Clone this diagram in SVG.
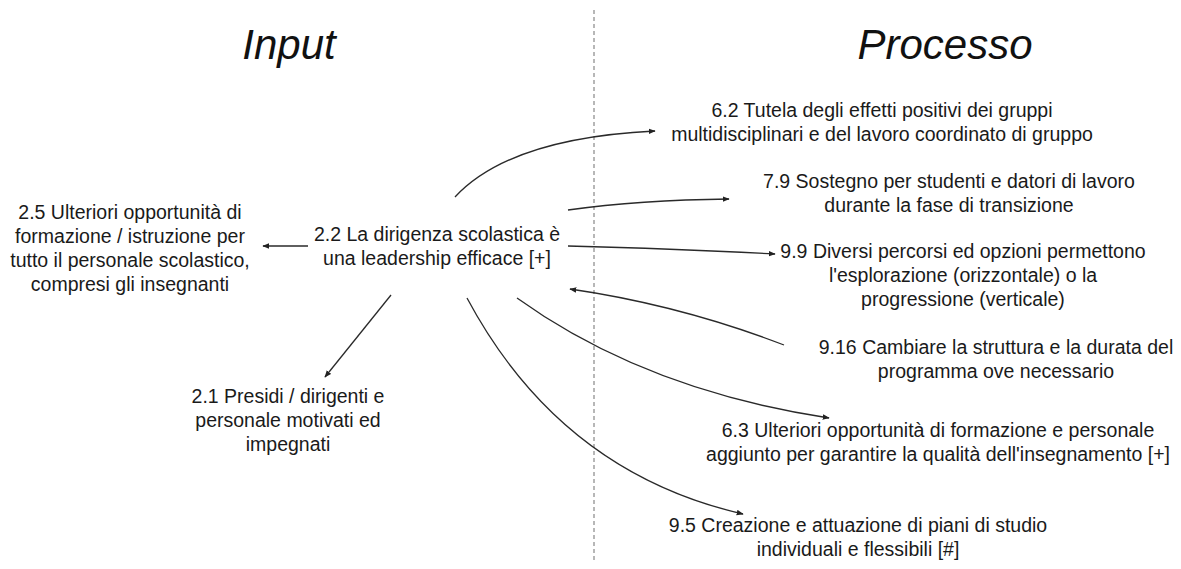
<svg xmlns="http://www.w3.org/2000/svg" width="1181" height="569" viewBox="0 0 1181 569">
  <defs>
    <marker id="arrow" viewBox="0 0 10 10" refX="9" refY="5" markerWidth="7" markerHeight="7" markerUnits="userSpaceOnUse" orient="auto">
      <path d="M0,1 L10,5 L0,9 z" fill="#222"/>
    </marker>
    <style>
      .title { font-family: "Liberation Sans", Arial, sans-serif; font-size: 42px; font-style: italic; fill: #111; text-anchor: middle; }
      .lbl { font-family: "Liberation Sans", Arial, sans-serif; font-size: 19.5px; fill: #1a1a1a; text-anchor: middle; }
      .edge { fill: none; stroke: #2a2a2a; stroke-width: 1.3; marker-end: url(#arrow); }
      .divider { stroke: #888; stroke-width: 1.2; stroke-dasharray: 4 3; }
    </style>
  </defs>
  <rect width="1181" height="569" fill="#fff"/>

  <!-- column headings and divider -->
  <text class="title" x="289" y="59">Input</text>
  <text class="title" x="945" y="59">Processo</text>
  <line class="divider" x1="594" y1="10" x2="594" y2="560"/>

  <!-- connectors -->
  <g id="connectors">
    <path class="edge" d="M308,246 L263,246"/>
    <path class="edge" d="M391,295 L325,377"/>
    <path class="edge" d="M455,197 Q510,138 655,131"/>
    <path class="edge" d="M568,210 Q640,200 729,199"/>
    <path class="edge" d="M568,246 Q680,249 775,254"/>
    <path class="edge" d="M784,345 Q680,305 570,289"/>
    <path class="edge" d="M517,298 Q645,390 829,418"/>
    <path class="edge" d="M467,298 Q560,472 743,514"/>
  </g>

  <!-- nodes -->
  <g id="n2_2">
    <text class="lbl" x="437" y="241">2.2 La dirigenza scolastica è</text>
    <text class="lbl" x="437" y="265">una leadership efficace [+]</text>
  </g>
  <g id="n2_5">
    <text class="lbl" x="130" y="219">2.5 Ulteriori opportunità di</text>
    <text class="lbl" x="130" y="243">formazione / istruzione per</text>
    <text class="lbl" x="130" y="267">tutto il personale scolastico,</text>
    <text class="lbl" x="130" y="291">compresi gli insegnanti</text>
  </g>
  <g id="n2_1">
    <text class="lbl" x="288" y="403">2.1 Presidi / dirigenti e</text>
    <text class="lbl" x="288" y="427">personale motivati ed</text>
    <text class="lbl" x="288" y="451">impegnati</text>
  </g>
  <g id="n6_2">
    <text class="lbl" x="882" y="117">6.2 Tutela degli effetti positivi dei gruppi</text>
    <text class="lbl" x="882" y="141">multidisciplinari e del lavoro coordinato di gruppo</text>
  </g>
  <g id="n7_9">
    <text class="lbl" x="949" y="188">7.9 Sostegno per studenti e datori di lavoro</text>
    <text class="lbl" x="949" y="212">durante la fase di transizione</text>
  </g>
  <g id="n9_9">
    <text class="lbl" x="963" y="258">9.9 Diversi percorsi ed opzioni permettono</text>
    <text class="lbl" x="963" y="282">l'esplorazione (orizzontale) o la</text>
    <text class="lbl" x="963" y="306">progressione (verticale)</text>
  </g>
  <g id="n9_16">
    <text class="lbl" x="996" y="354">9.16 Cambiare la struttura e la durata del</text>
    <text class="lbl" x="996" y="378">programma ove necessario</text>
  </g>
  <g id="n6_3">
    <text class="lbl" x="938" y="437">6.3 Ulteriori opportunità di formazione e personale</text>
    <text class="lbl" x="938" y="461">aggiunto per garantire la qualità dell'insegnamento [+]</text>
  </g>
  <g id="n9_5">
    <text class="lbl" x="858" y="532">9.5 Creazione e attuazione di piani di studio</text>
    <text class="lbl" x="858" y="556">individuali e flessibili [#]</text>
  </g>
</svg>
